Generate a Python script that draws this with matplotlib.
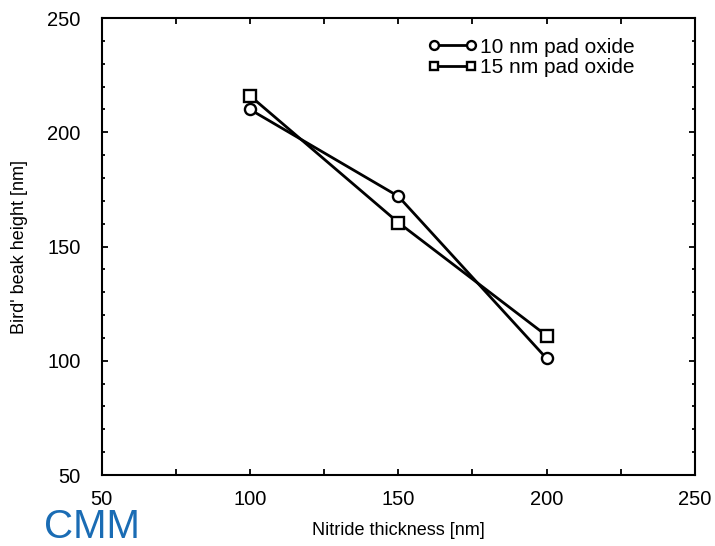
import matplotlib
matplotlib.use('Agg')
import matplotlib.pyplot as plt
from matplotlib.ticker import MultipleLocator

plt.rcParams['font.family'] = ['Liberation Sans', 'DejaVu Sans']

thickness = [100, 150, 200]
height_10nm = [210, 172, 101]
height_15nm = [216, 160.5, 111]

fig = plt.figure(figsize=(7.15, 5.46), dpi=100)
ax = fig.add_axes([0.142, 0.13, 0.830, 0.837])

ax.plot(thickness, height_10nm, '-o', color='black', lw=2, ms=8,
        mfc='white', mew=1.7, label='10 nm pad oxide')
ax.plot(thickness, height_15nm, '-s', color='black', lw=2, ms=8,
        mfc='white', mew=1.7, label='15 nm pad oxide')

ax.set_xlim(50, 250)
ax.set_ylim(50, 250)
ax.xaxis.set_major_locator(MultipleLocator(50))
ax.xaxis.set_minor_locator(MultipleLocator(25))
ax.yaxis.set_major_locator(MultipleLocator(50))
ax.yaxis.set_minor_locator(MultipleLocator(10))
ax.tick_params(which='both', direction='in', top=True, right=True, labelsize=14.5, width=1.3)
ax.tick_params(axis='x', which='both', length=4, pad=11)
ax.tick_params(axis='y', which='major', length=4, pad=15)
ax.tick_params(axis='y', which='minor', length=2.2)
for s in ax.spines.values():
    s.set_linewidth(1.5)

ax.set_xlabel('Nitride thickness [nm]', fontsize=13, labelpad=9)
ax.set_ylabel("Bird' beak height [nm]", fontsize=13, labelpad=14)

ax.legend(loc='upper left', bbox_to_anchor=(0.535, 0.975), frameon=False,
          numpoints=2, handlelength=2.4, handletextpad=0.15, fontsize=15,
          labelspacing=0.05, borderaxespad=0, markerscale=0.8)

fig.text(0.062, 0.0, 'CMM', color='#1a6cb4', fontsize=29,
         family='Liberation Sans', va='bottom')

fig.savefig('out.png', dpi=100)
